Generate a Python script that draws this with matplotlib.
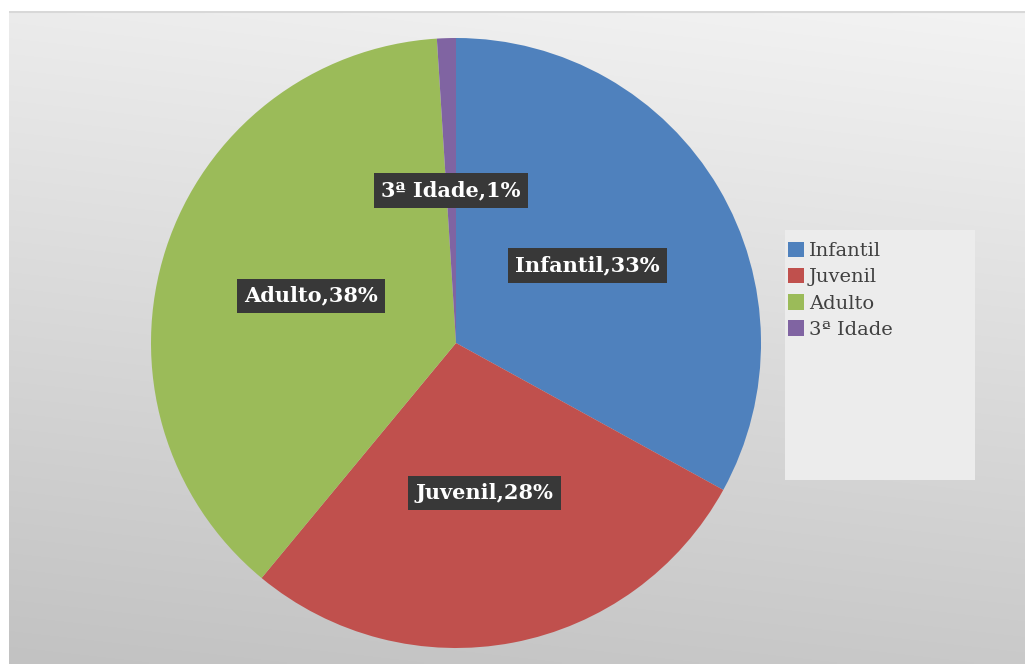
import numpy as np
import matplotlib
matplotlib.use("Agg")
import matplotlib.pyplot as plt
from matplotlib.patches import Rectangle, Patch

categories = ["Infantil", "Juvenil", "Adulto", "3ª Idade"]
values = [33, 28, 38, 1]
colors = ["#4F81BD", "#C0504D", "#9BBB59", "#8064A2"]

W, H = 1025, 664
fig = plt.figure(figsize=(W / 100, H / 100), dpi=100)
fig.patch.set_facecolor("white")

# background gradient panel
bg = fig.add_axes([9 / W, 0, 1 - 9 / W, 1 - 11 / H])
bg.set_axis_off()
yy, xx = np.mgrid[0:1:200j, 0:1:200j]
t = 0.85 * yy + 0.15 * (1 - xx)
top = np.array([0xf3, 0xf3, 0xf3]) / 255
bot = np.array([0xc2, 0xc2, 0xc2]) / 255
img = top * (1 - t[..., None]) + bot * t[..., None]
bg.imshow(img, aspect="auto", extent=[0, 1, 1, 0], interpolation="bilinear")
bg.set_xlim(0, 1)
bg.set_ylim(1, 0)
bg.plot([0, 1], [0.002, 0.002], color="#d8d8d8", lw=1.5)

# legend background box
fig.patches.append(Rectangle((785 / W, 1 - 480 / H), 190 / W, 250 / H,
                             transform=fig.transFigure, facecolor="#ececec",
                             edgecolor="none", zorder=1))

cx, cy, R = 456, 343, 305
ax = fig.add_axes([(cx - R) / W, (H - cy - R) / H, 2 * R / W, 2 * R / H])
wedges, texts = ax.pie(values, colors=colors, startangle=90, counterclock=False,
                       radius=1.0, labels=None,
                       wedgeprops=dict(linewidth=0))
ax.set_xlim(-1, 1)
ax.set_ylim(-1, 1)
ax.set_axis_off()

total = sum(values)
for w, cat, v in zip(wedges, categories, values):
    ang = np.deg2rad((w.theta1 + w.theta2) / 2)
    r = 0.5
    ax.text(r * np.cos(ang), r * np.sin(ang), f"{cat},{round(100 * v / total)}%",
            ha="center", va="center", color="white", fontsize=15,
            fontweight="bold", family="DejaVu Serif",
            bbox=dict(boxstyle="square,pad=0.35", facecolor="#383838",
                      edgecolor="none"))

handles = [Patch(facecolor=c, edgecolor="none") for c in colors]
leg = fig.legend(handles, categories, loc="upper left",
                 bbox_to_anchor=(774 / W, 1 - 228 / H), frameon=False,
                 prop=dict(family="DejaVu Serif", size=14),
                 handlelength=0.85, handleheight=0.85, handletextpad=0.25,
                 labelspacing=0.4, borderpad=0.2, labelcolor="#404040")

fig.savefig("out.png", dpi=100)
